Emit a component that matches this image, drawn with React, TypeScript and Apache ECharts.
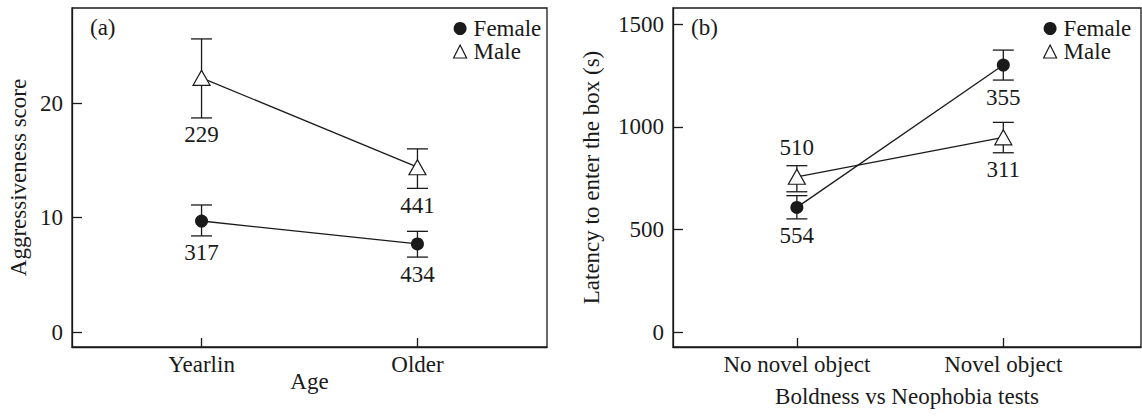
import React, { useEffect, useRef } from "react";
import * as echarts from "echarts";

// Panel (a): Aggressiveness score by age
const ageCategories = ["Yearlin", "Older"];
const aFemaleMean = [9.7, 7.7];
const aFemaleLow = [8.4, 6.55];
const aFemaleHigh = [11.1, 8.8];
const aFemaleN = [317, 434];
const aMaleMean = [22.2, 14.4];
const aMaleLow = [18.7, 12.55];
const aMaleHigh = [25.6, 16.0];
const aMaleN = [229, 441];
const aYTicks = [0, 10, 20];

// Panel (b): Latency to enter the box
const testCategories = ["No novel object", "Novel object"];
const bFemaleMean = [608, 1301];
const bFemaleLow = [552, 1228];
const bFemaleHigh = [665, 1374];
const bFemaleN = [554, 355];
const bMaleMean = [757, 949];
const bMaleLow = [684, 874];
const bMaleHigh = [811, 1022];
const bMaleN = [510, 311];
const bLabelAbove = [true, false]; // male n label placement in panel (b)
const bYTicks = [0, 500, 1000, 1500];

const FONT = "'Liberation Serif', 'Times New Roman', serif";
const INK = "#1a1a1a";
const FS = 23;

function errData(mean: number[], low: number[], high: number[], n: number[], above?: boolean[]) {
  return mean.map((_, i) => [i, low[i], high[i], n[i], above && above[i] ? 1 : 0]);
}

function errorSeries(data: any[], gi: number) {
  return {
    type: "custom",
    xAxisIndex: gi,
    yAxisIndex: gi,
    z: 1,
    silent: true,
    data,
    renderItem: (params: any, api: any) => {
      const x = api.value(0);
      const lo = api.coord([x, api.value(1)]);
      const hi = api.coord([x, api.value(2)]);
      const n = api.value(3);
      const above = api.value(4) === 1;
      const cap = 10.5;
      const ls = { stroke: INK, lineWidth: 1.3 };
      const ty = above ? hi[1] - 18 : lo[1] + 17;
      return {
        type: "group",
        children: [
          { type: "line", shape: { x1: lo[0], y1: lo[1], x2: hi[0], y2: hi[1] }, style: ls },
          { type: "line", shape: { x1: lo[0] - cap, y1: lo[1], x2: lo[0] + cap, y2: lo[1] }, style: ls },
          { type: "line", shape: { x1: hi[0] - cap, y1: hi[1], x2: hi[0] + cap, y2: hi[1] }, style: ls },
          {
            type: "text",
            style: {
              text: String(n),
              x: lo[0],
              y: ty,
              align: "center",
              verticalAlign: "middle",
              font: `${FS}px ${FONT}`,
              fill: INK,
            },
          },
        ],
      };
    },
  };
}

function lineSeries(name: string, mean: number[], gi: number, female: boolean) {
  return {
    name,
    type: "line",
    xAxisIndex: gi,
    yAxisIndex: gi,
    z: 3,
    data: mean.map((v, i) => [i, v]),
    symbol: female ? "circle" : "triangle",
    symbolSize: female ? 13 : [17, 15],
    showSymbol: true,
    lineStyle: { color: INK, width: 1.3 },
    itemStyle: female
      ? { color: INK }
      : { color: "#ffffff", borderColor: INK, borderWidth: 1.2 },
  };
}

function xAxisFor(gi: number, cats: string[], name: string, nameGap: number, max: number) {
  return {
    type: "value",
    gridIndex: gi,
    min: -0.6,
    max,
    name,
    nameLocation: "middle",
    nameGap,
    nameMoveOverlap: false,
    nameTextStyle: { fontFamily: FONT, fontSize: FS, color: INK },
    axisLine: { show: true, onZero: false, lineStyle: { color: INK, width: 1.3 } },
    axisTick: { show: true, inside: true, length: 9, customValues: [0, 1], lineStyle: { color: INK, width: 1.3 } },
    axisLabel: {
      customValues: [0, 1],
      formatter: (v: number) => cats[Math.round(v)] ?? "",
      fontFamily: FONT,
      fontSize: FS,
      color: INK,
      margin: 6,
    },
    splitLine: { show: false },
  };
}

function yAxisFor(gi: number, min: number, max: number, ticks: number[], name: string, nameGap: number) {
  return {
    type: "value",
    gridIndex: gi,
    min,
    max,
    name,
    nameLocation: "middle",
    nameGap,
    nameMoveOverlap: false,
    nameTextStyle: { fontFamily: FONT, fontSize: FS, color: INK },
    axisLine: { show: true, onZero: false, lineStyle: { color: INK, width: 1.3 } },
    axisTick: { show: true, inside: true, length: 10, customValues: ticks, lineStyle: { color: INK, width: 1.3 } },
    axisLabel: {
      customValues: ticks,
      formatter: (v: number) => String(v),
      fontFamily: FONT,
      fontSize: FS,
      color: INK,
      margin: 9,
    },
    splitLine: { show: false },
  };
}

function legendAt(left: number) {
  return {
    orient: "vertical",
    left,
    top: 12,
    itemWidth: 13,
    itemHeight: 13,
    itemGap: 0,
    selectedMode: false,
    textStyle: { fontFamily: FONT, fontSize: FS, color: INK, padding: [0, 0, 0, 2] },
    data: [
      { name: "Female", icon: "circle", itemStyle: { color: INK, borderWidth: 0 } },
      { name: "Male", icon: "triangle", itemStyle: { color: "#ffffff", borderColor: INK, borderWidth: 1.2 } },
    ],
  };
}

export default function App() {
  const ref = useRef<HTMLDivElement>(null);
  useEffect(() => {
    document.body.style.margin = "0";
    const chart = echarts.init(ref.current!, null, { renderer: "svg" });
    chart.setOption({
      animation: false,
      backgroundColor: "#ffffff",
      title: [
        { text: "(a)", left: 85, top: 11, textStyle: { fontFamily: FONT, fontSize: FS, fontWeight: "normal", color: INK } },
        { text: "(b)", left: 686, top: 11, textStyle: { fontFamily: FONT, fontSize: FS, fontWeight: "normal", color: INK } },
      ],
      legend: [legendAt(448), legendAt(1038)],
      grid: [
        { left: 72, top: 8, width: 475, height: 339, show: true, borderColor: INK, borderWidth: 1.3, containLabel: false },
        { left: 673, top: 8, width: 468, height: 339, show: true, borderColor: INK, borderWidth: 1.3, containLabel: false },
      ],
      xAxis: [
        xAxisFor(0, ageCategories, "Age", 23, 1.6),
        xAxisFor(1, testCategories, "Boldness vs Neophobia tests", 38, 1.667),
      ],
      yAxis: [
        yAxisFor(0, -1.3, 28.3, aYTicks, "Aggressiveness score", 42),
        yAxisFor(1, -72, 1579, bYTicks, "Latency to enter the box (s)", 70),
      ],
      series: [
        errorSeries(errData(aFemaleMean, aFemaleLow, aFemaleHigh, aFemaleN), 0),
        errorSeries(errData(aMaleMean, aMaleLow, aMaleHigh, aMaleN), 0),
        lineSeries("Female", aFemaleMean, 0, true),
        lineSeries("Male", aMaleMean, 0, false),
        errorSeries(errData(bFemaleMean, bFemaleLow, bFemaleHigh, bFemaleN), 1),
        errorSeries(errData(bMaleMean, bMaleLow, bMaleHigh, bMaleN, bLabelAbove), 1),
        lineSeries("Female", bFemaleMean, 1, true),
        lineSeries("Male", bMaleMean, 1, false),
      ],
    });
    return () => chart.dispose();
  }, []);
  return <div ref={ref} style={{ width: 1142, height: 418 }} />;
}
